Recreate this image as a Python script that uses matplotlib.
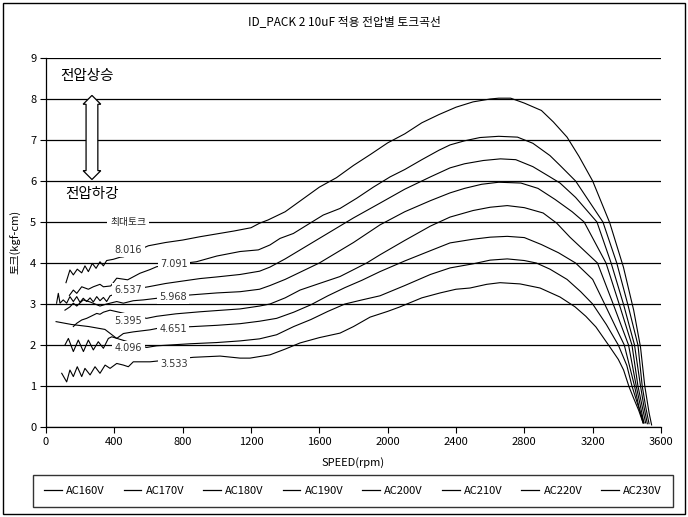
import matplotlib
matplotlib.use("Agg")
import matplotlib.pyplot as plt
from matplotlib.lines import Line2D
from matplotlib.patches import Rectangle

plt.rcParams['font.family'] = ['Noto Sans CJK KR', 'DejaVu Sans']

title = "ID_PACK 2 10uF 적용 전압별 토크곡선"
x_label = "SPEED(rpm)"
y_label = "토크(kgf-cm)"
series_names = ["AC160V", "AC170V", "AC180V", "AC190V", "AC200V", "AC210V", "AC220V", "AC230V"]
x_ticks = [0, 400, 800, 1200, 1600, 2000, 2400, 2800, 3200, 3600]
y_ticks = [0, 1, 2, 3, 4, 5, 6, 7, 8, 9]

# ---- data (rpm, torque kgf-cm) ----
rpm_160 = [92, 121, 140, 160, 183, 209, 228, 258, 287, 316, 346, 375, 414, 453, 482, 511, 609, 700, 863, 1019,
           1136, 1194, 1311, 1400, 1487, 1600, 1721, 1800, 1897, 2000, 2072, 2200, 2307, 2400, 2482, 2580, 2658,
           2775, 2892, 3009, 3097, 3160, 3219, 3301, 3350, 3381, 3413, 3440, 3470, 3495]
tq_160 = [1.31, 1.10, 1.39, 1.23, 1.47, 1.23, 1.43, 1.27, 1.47, 1.31, 1.51, 1.43, 1.55, 1.51, 1.47, 1.59, 1.59, 1.63,
          1.70, 1.73, 1.68, 1.68, 1.76, 1.90, 2.05, 2.18, 2.29, 2.45, 2.68, 2.82, 2.93, 3.15, 3.27, 3.36, 3.39, 3.48,
          3.52, 3.49, 3.39, 3.17, 2.93, 2.70, 2.44, 1.95, 1.65, 1.39, 0.98, 0.70, 0.40, 0.10]

rpm_170 = [111, 131, 160, 189, 219, 248, 277, 306, 336, 365, 385, 589, 648, 843, 1000, 1136, 1250, 1350, 1450,
           1550, 1650, 1750, 1850, 1955, 2100, 2250, 2365, 2500, 2600, 2700, 2800, 2870, 2950, 3050, 3130, 3200,
           3280, 3350, 3400, 3430, 3460, 3500]
tq_170 = [2.00, 2.16, 1.84, 2.12, 1.84, 2.12, 1.88, 2.08, 1.92, 2.16, 2.20, 1.94, 1.98, 2.03, 2.06, 2.10, 2.15,
          2.25, 2.45, 2.62, 2.82, 3.00, 3.10, 3.20, 3.45, 3.72, 3.88, 3.98, 4.07, 4.10, 4.06, 4.00, 3.85, 3.60,
          3.30, 3.00, 2.50, 2.00, 1.50, 1.00, 0.60, 0.10]

rpm_180 = [59, 150, 250, 345, 414, 453, 511, 609, 658, 760, 863, 1000, 1136, 1250, 1350, 1450, 1550, 1650, 1750,
           1850, 1955, 2100, 2250, 2365, 2500, 2600, 2700, 2800, 2900, 3000, 3100, 3200, 3270, 3385, 3445, 3470, 3495]
tq_180 = [2.57, 2.50, 2.45, 2.38, 2.16, 2.28, 2.32, 2.37, 2.41, 2.43, 2.45, 2.48, 2.52, 2.58, 2.65, 2.80, 2.98,
          3.20, 3.40, 3.58, 3.79, 4.05, 4.30, 4.49, 4.58, 4.63, 4.65, 4.62, 4.45, 4.25, 4.00, 3.60, 3.00, 2.00,
          1.00, 0.50, 0.10]

rpm_190 = [160, 180, 209, 238, 258, 297, 316, 336, 375, 480, 589, 648, 760, 901, 1000, 1136, 1250, 1311, 1400,
           1487, 1600, 1721, 1877, 1955, 2100, 2250, 2365, 2500, 2600, 2700, 2800, 2910, 2990, 3067, 3228, 3320,
           3410, 3455, 3480, 3500]
tq_190 = [2.45, 2.53, 2.61, 2.65, 2.69, 2.77, 2.75, 2.80, 2.85, 2.75, 2.65, 2.70, 2.76, 2.81, 2.84, 2.88, 2.95,
          3.00, 3.15, 3.34, 3.50, 3.67, 4.00, 4.20, 4.55, 4.90, 5.12, 5.28, 5.36, 5.40, 5.35, 5.22, 4.97, 4.63,
          4.00, 3.00, 2.00, 1.00, 0.50, 0.10]

rpm_200 = [111, 140, 160, 180, 218, 258, 316, 355, 414, 453, 511, 570, 650, 760, 843, 1000, 1136, 1250, 1311,
           1400, 1500, 1600, 1700, 1800, 1955, 2100, 2250, 2365, 2450, 2550, 2650, 2780, 2880, 2980, 3080, 3150,
           3278, 3355, 3430, 3465, 3490, 3510]
tq_200 = [2.85, 2.93, 3.02, 2.95, 3.10, 3.05, 2.95, 3.00, 3.06, 3.02, 3.08, 3.10, 3.14, 3.18, 3.22, 3.27, 3.30,
          3.36, 3.45, 3.60, 3.80, 4.00, 4.25, 4.50, 4.93, 5.25, 5.52, 5.71, 5.82, 5.92, 5.97, 5.95, 5.82, 5.55,
          5.25, 5.00, 4.00, 3.00, 2.00, 1.00, 0.50, 0.10]

rpm_210 = [62, 72, 82, 101, 121, 140, 160, 180, 199, 218, 238, 258, 277, 297, 316, 336, 355, 375, 480, 599, 700,
           800, 901, 1000, 1136, 1250, 1311, 1400, 1500, 1600, 1700, 1800, 1955, 2100, 2250, 2365, 2450, 2560,
           2660, 2750, 2850, 2950, 3009, 3100, 3225, 3308, 3380, 3445, 3480, 3500, 3520]
tq_210 = [3.02, 3.26, 3.02, 3.10, 3.02, 3.18, 3.06, 3.18, 3.04, 3.14, 3.06, 3.15, 3.05, 3.18, 3.08, 3.16, 3.06,
          3.20, 3.34, 3.42, 3.50, 3.56, 3.62, 3.66, 3.72, 3.80, 3.90, 4.10, 4.35, 4.60, 4.85, 5.10, 5.46, 5.80,
          6.10, 6.32, 6.42, 6.50, 6.54, 6.52, 6.35, 6.10, 5.95, 5.60, 5.00, 4.00, 3.00, 2.00, 1.00, 0.50, 0.08]

rpm_220 = [137, 160, 180, 209, 248, 277, 316, 336, 379, 414, 478, 550, 609, 648, 760, 880, 1000, 1136, 1243,
           1311, 1370, 1448, 1545, 1623, 1721, 1819, 1916, 2014, 2100, 2200, 2300, 2365, 2450, 2540, 2650, 2760,
           2850, 2950, 3009, 3100, 3180, 3260, 3341, 3405, 3465, 3490, 3510, 3530]
tq_220 = [3.21, 3.34, 3.26, 3.42, 3.36, 3.42, 3.48, 3.42, 3.44, 3.63, 3.59, 3.75, 3.84, 3.91, 3.97, 4.03, 4.17,
          4.28, 4.32, 4.44, 4.60, 4.72, 4.97, 5.17, 5.33, 5.58, 5.85, 6.10, 6.28, 6.52, 6.75, 6.88, 6.98, 7.06,
          7.09, 7.07, 6.92, 6.62, 6.38, 6.00, 5.50, 5.00, 4.00, 3.00, 2.00, 1.00, 0.50, 0.08]

rpm_230 = [117, 140, 160, 183, 209, 228, 248, 271, 293, 316, 336, 355, 394, 433, 453, 599, 700, 800, 900, 1000,
           1100, 1200, 1250, 1300, 1400, 1500, 1600, 1700, 1800, 1900, 2000, 2100, 2200, 2300, 2400, 2500, 2600,
           2650, 2720, 2800, 2900, 2970, 3050, 3120, 3200, 3300, 3380, 3440, 3480, 3505, 3530, 3545]
tq_230 = [3.52, 3.83, 3.71, 3.85, 3.76, 3.93, 3.79, 3.99, 3.87, 4.03, 3.93, 4.06, 4.09, 4.14, 4.15, 4.42, 4.50,
          4.56, 4.64, 4.71, 4.78, 4.86, 4.97, 5.05, 5.25, 5.55, 5.85, 6.08, 6.38, 6.65, 6.93, 7.15, 7.42, 7.62,
          7.80, 7.93, 8.00, 8.02, 8.02, 7.90, 7.72, 7.44, 7.07, 6.60, 6.00, 4.98, 3.90, 2.85, 1.95, 1.00, 0.35, 0.05]

all_rpm = [rpm_160, rpm_170, rpm_180, rpm_190, rpm_200, rpm_210, rpm_220, rpm_230]
all_tq = [tq_160, tq_170, tq_180, tq_190, tq_200, tq_210, tq_220, tq_230]

# max torque labels (text, rpm, torque position)
max_labels = ["3.533", "4.096", "4.651", "5.395", "5.968", "6.537", "7.091", "8.016"]
max_label_rpm = [749, 483, 743, 483, 743, 483, 749, 483]
max_label_tq = [1.54, 1.92, 2.39, 2.59, 3.18, 3.34, 3.97, 4.32]

fig = plt.figure(figsize=(6.88, 5.17), dpi=100)
ax = fig.add_axes([46/688, 1-427/517, (661-46)/688, (427-58)/517])

for r, t in zip(all_rpm, all_tq):
    ax.plot(r, t, color='black', lw=0.8, zorder=2)

ax.set_xlim(0, 3600)
ax.set_ylim(0, 9)
ax.set_xticks(x_ticks)
ax.set_yticks(y_ticks)
ax.set_xticklabels([str(v) for v in x_ticks], fontsize=8)
ax.set_yticklabels([str(v) for v in y_ticks], fontsize=8)
ax.tick_params(axis='both', direction='out', length=4, width=0.8, color='black', pad=3)
ax.yaxis.grid(True, color='black', lw=0.9, zorder=1)
ax.set_axisbelow(True)
for s in ['top', 'right']:
    ax.spines[s].set_visible(False)
for s in ['left', 'bottom']:
    ax.spines[s].set_linewidth(0.9)

for txt, rx, ty in zip(max_labels, max_label_rpm, max_label_tq):
    ax.text(rx, ty, txt, fontsize=7, ha='center', va='center', color='#333333', zorder=5,
            family=['DejaVu Sans'],
            bbox=dict(boxstyle='square,pad=0.25', fc='white', ec='none'))

ax.text(480, 5.0, "최대토크", fontsize=7, ha='center', va='center', color='#222222', zorder=5,
        bbox=dict(boxstyle='square,pad=0.3', fc='white', ec='none'))
ax.text(82, 8.56, "전압상승", fontsize=10.5, ha='left', va='center', color='black', zorder=5)
ax.text(111, 5.68, "전압하강", fontsize=10.5, ha='left', va='center', color='black', zorder=5)
ax.text(269, 7.04, "0" * 10, fontsize=8, rotation=90, ha='center', va='center', zorder=5,
        color='white', family=['DejaVu Sans'],
        bbox=dict(boxstyle='darrow,pad=0.08', fc='white', ec='black', lw=0.9))

fig.text(0.5, 1-22/517, title, ha='center', va='center', fontsize=8.5)
fig.text(353/688, 1-463/517, x_label, ha='center', va='center', fontsize=8)
fig.text(16/688, 1-242/517, y_label, ha='center', va='center', fontsize=8, rotation=90)

handles = [Line2D([0], [0], color='black', lw=0.9) for _ in series_names]
leg = fig.legend(handles, series_names, loc='lower left', ncol=8, mode='expand',
                 bbox_to_anchor=(33/688, 1-507/517, 640/688, 30/517), fontsize=8,
                 frameon=True, fancybox=False, handlelength=1.6, handletextpad=0.4,
                 borderpad=1.0, columnspacing=1.0, borderaxespad=0.0)
leg.get_frame().set_edgecolor('black')
leg.get_frame().set_linewidth(1.0)

fig.patches.append(Rectangle((3/688, 3/517), 682/688, 511/517, transform=fig.transFigure,
                             fill=False, ec='black', lw=1.0))

fig.savefig("out.png", dpi=100)
